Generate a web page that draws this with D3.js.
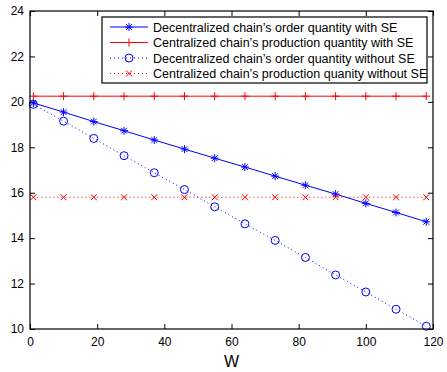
<!DOCTYPE html>
<html><head><meta charset="utf-8">
<script src="https://cdn.jsdelivr.net/npm/d3@7"></script>
<style>body{margin:0;background:#fff}svg{display:block}text{font-family:"Liberation Sans",Arial,sans-serif}</style>
</head><body>
<svg id="c" width="447" height="372"></svg>
<script>
const W = [1,10,19,28,37,46,55,64,73,82,91,100,109,118];
const decWithSE = [19.95,19.55,19.13,18.73,18.32,17.92,17.52,17.13,16.73,16.33,15.94,15.53,15.13,14.72];
const cenWithSE = [20.25,20.25,20.25,20.25,20.25,20.25,20.25,20.25,20.25,20.25,20.25,20.25,20.25,20.25];
const decWithoutSE = [19.89,19.15,18.39,17.63,16.88,16.14,15.38,14.63,13.90,13.15,12.38,11.63,10.87,10.12];
const cenWithoutSE = [15.8,15.8,15.8,15.8,15.8,15.8,15.8,15.8,15.8,15.8,15.8,15.8,15.8,15.8];
const xTicks = [0,20,40,60,80,100,120];
const yTicks = [10,12,14,16,18,20,22,24];
const legendLabels = ["Decentralized chain\u2019s order quantity with SE","Centralized chain\u2019s production quantity with SE","Decentralized chain\u2019s order quantity without SE","Centralized chain\u2019s production quanity without SE"];

const svg = d3.select("#c");
const L=30,R=433,T=11,B=329;
const x = d3.scaleLinear().domain([0,120]).range([L,R]);
const y = d3.scaleLinear().domain([10,24]).range([B,T]);

const series = [
  {v:decWithSE, color:"#0000ff", dash:null, marker:"star"},
  {v:cenWithSE, color:"#ff0000", dash:null, marker:"plus"},
  {v:decWithoutSE, color:"#0000ff", dash:"1,3", marker:"circle"},
  {v:cenWithoutSE, color:"#ff0000", dash:"1,3", marker:"x"}
];

function drawMarker(g, type, cx, cy, color){
  if(type==="circle"){
    g.append("circle").attr("cx",cx).attr("cy",cy).attr("r",4).attr("fill","none").attr("stroke",color).attr("stroke-width",1);
  } else if(type==="plus"){
    const s=4;
    g.append("path").attr("d",`M${cx-s},${cy}H${cx+s}M${cx},${cy-s}V${cy+s}`).attr("stroke",color).attr("stroke-width",1);
  } else if(type==="x"){
    const s=3;
    g.append("path").attr("d",`M${cx-s},${cy-s}L${cx+s},${cy+s}M${cx-s},${cy+s}L${cx+s},${cy-s}`).attr("stroke",color).attr("stroke-width",1);
  } else if(type==="star"){
    const s=4, d=2.9;
    g.append("path").attr("d",`M${cx-s},${cy}H${cx+s}M${cx},${cy-s}V${cy+s}M${cx-d},${cy-d}L${cx+d},${cy+d}M${cx-d},${cy+d}L${cx+d},${cy-d}`).attr("stroke",color).attr("stroke-width",1);
  }
}

const gx = svg.append("g").attr("transform",`translate(0,${B})`)
  .call(d3.axisBottom(x).tickValues(xTicks).tickSize(-5).tickPadding(8).tickFormat(d3.format("d")));
const gxt = svg.append("g").attr("transform",`translate(0,${T})`)
  .call(d3.axisTop(x).tickValues(xTicks).tickSize(-5).tickFormat(""));
const gy = svg.append("g").attr("transform",`translate(${L},0)`)
  .call(d3.axisLeft(y).tickValues(yTicks).tickSize(-5).tickPadding(6).tickFormat(d3.format("d")));
const gyr = svg.append("g").attr("transform",`translate(${R},0)`)
  .call(d3.axisRight(y).tickValues(yTicks).tickSize(-5).tickFormat(""));
[gx,gxt,gy,gyr].forEach(g=>{
  g.select(".domain").remove();
  g.selectAll("line").attr("stroke","#000");
  g.selectAll("text").attr("fill","#000").style("font-size","12px").style("font-family","Liberation Sans, Arial, sans-serif");
});

const plot = svg.append("g");
const line = d3.line().x((d,i)=>x(W[i])).y(d=>y(d));
series.forEach(s=>{
  plot.append("path").datum(s.v).attr("d",line).attr("fill","none").attr("stroke",s.color).attr("stroke-width",1)
    .attr("stroke-dasharray",s.dash);
  s.v.forEach((v,i)=>drawMarker(plot,s.marker,x(W[i]),y(v),s.color));
});

svg.append("rect").attr("x",L).attr("y",T).attr("width",R-L).attr("height",B-T).attr("fill","none").attr("stroke","#000").attr("stroke-width",1.2);

svg.append("text").attr("x",(L+R)/2).attr("y",367).attr("text-anchor","middle").style("font-size","16px").text("W");

const lg = svg.append("g");
const lx0=102, ly0=17, lw=325, lh=66;
lg.append("rect").attr("x",lx0).attr("y",ly0).attr("width",lw).attr("height",lh).attr("fill","#fff").attr("stroke","#000").attr("stroke-width",1.2);
legendLabels.forEach((t,i)=>{
  const cy = ly0+10+i*15.5;
  const s=series[i];
  lg.append("line").attr("x1",lx0+8).attr("x2",lx0+46).attr("y1",cy).attr("y2",cy).attr("stroke",s.color).attr("stroke-width",1).attr("stroke-dasharray",s.dash);
  drawMarker(lg,s.marker,lx0+27,cy,s.color);
  lg.append("text").attr("x",lx0+51).attr("y",cy+4.5).style("font-size","12.5px").attr("fill","#000").text(t);
});
</script>
</body></html>
